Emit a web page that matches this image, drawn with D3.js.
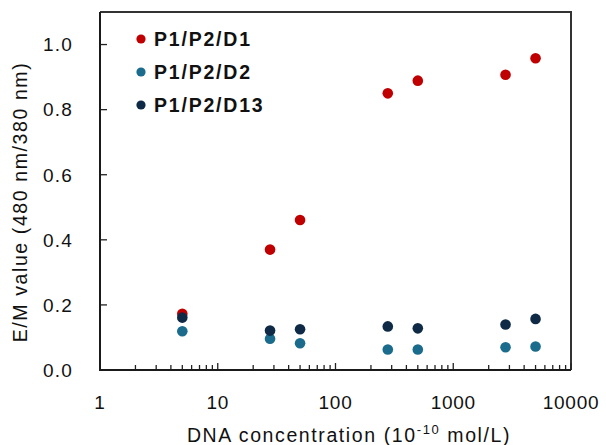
<!DOCTYPE html>
<html><head><meta charset="utf-8">
<script src="https://cdn.jsdelivr.net/npm/d3@7"></script>
<style>body{margin:0;background:#fff}svg{display:block}</style>
</head><body><svg id="c" width="606" height="445"></svg>
<script>
const concentrations = [5, 27.8, 50, 278, 500, 2780, 5000];
const seriesNames = ["P1/P2/D1", "P1/P2/D2", "P1/P2/D13"];
const d1Values = [0.173, 0.370, 0.461, 0.850, 0.889, 0.907, 0.958];
const d2Values = [0.119, 0.096, 0.082, 0.063, 0.063, 0.070, 0.072];
const d13Values = [0.161, 0.121, 0.125, 0.134, 0.128, 0.140, 0.157];
const yTicks = [0, 0.2, 0.4, 0.6, 0.8, 1.0];
const xTicks = [1, 10, 100, 1000, 10000];
const seriesColors = ["#C00000", "#1B6B8D", "#0E2A47"];

const series = [d1Values, d2Values, d13Values].map((vals, i) => ({
  name: seriesNames[i], color: seriesColors[i],
  points: concentrations.map((c, j) => ({x: c, y: vals[j]}))
}));

const FONT = "'Liberation Sans', Arial, sans-serif";
const m = {left: 100, right: 571, top: 12, bottom: 370};
const svg = d3.select("#c");

const x = d3.scaleLog().domain([1, 10000]).range([m.left, m.right]);
const y = d3.scaleLinear().domain([0, 1.1]).range([m.bottom, m.top]);

// frame (top + right)
svg.append("path")
  .attr("d", `M${m.left},${m.top}H${m.right}V${m.bottom}`)
  .attr("fill", "none").attr("stroke", "#333").attr("stroke-width", 2);

// x axis with inward ticks
const minor = [];
for (let d = 1; d < 10000; d *= 10) for (let k = 2; k <= 9; k++) minor.push(d * k);
const gx = svg.append("g").attr("transform", `translate(0,${m.bottom})`);
gx.selectAll("line.minor").data(minor).join("line")
  .attr("x1", d => x(d)).attr("x2", d => x(d)).attr("y1", 0).attr("y2", -5)
  .attr("stroke", "#222").attr("stroke-width", 1.3);
gx.selectAll("line.major").data(xTicks).join("line")
  .attr("x1", d => x(d)).attr("x2", d => x(d)).attr("y1", 0).attr("y2", -7)
  .attr("stroke", "#222").attr("stroke-width", 1.3);
gx.selectAll("text").data(xTicks).join("text")
  .attr("x", d => x(d)).attr("y", 38.5).attr("text-anchor", "middle")
  .attr("font-family", FONT).attr("font-size", 19).attr("letter-spacing", 0.7)
  .attr("fill", "#111").text(d => d3.format("d")(d));

// y axis with inward ticks
const gy = svg.append("g").attr("transform", `translate(${m.left},0)`);
gy.selectAll("line").data(yTicks).join("line")
  .attr("x1", 0).attr("x2", 7).attr("y1", d => y(d)).attr("y2", d => y(d))
  .attr("stroke", "#222").attr("stroke-width", 1.3);
gy.selectAll("text").data(yTicks).join("text")
  .attr("x", -27).attr("y", d => y(d)).attr("dy", "0.36em").attr("text-anchor", "end")
  .attr("font-family", FONT).attr("font-size", 19).attr("letter-spacing", 1.2)
  .attr("fill", "#111").text(d => d3.format(".1f")(d));

// axis lines
svg.append("path")
  .attr("d", `M${m.left},${m.top}V${m.bottom}H${m.right}`)
  .attr("fill", "none").attr("stroke", "#1a1a1a").attr("stroke-width", 2);

// points
series.forEach(s => {
  svg.append("g").selectAll("circle").data(s.points).join("circle")
    .attr("cx", d => x(d.x)).attr("cy", d => y(d.y)).attr("r", 5.3)
    .attr("fill", s.color);
});

// legend
const lg = svg.append("g");
series.forEach((s, i) => {
  const yy = 39 + i * 33;
  lg.append("circle").attr("cx", 141).attr("cy", yy).attr("r", 4.6).attr("fill", s.color);
  lg.append("text").attr("x", 154).attr("y", yy + 7)
    .attr("font-family", FONT).attr("font-size", 19.5).attr("font-weight", "bold")
    .attr("letter-spacing", 1.8).attr("fill", "#111").text(s.name);
});

// axis titles
const xt = svg.append("text").attr("x", 349).attr("y", 441.5).attr("text-anchor", "middle")
  .attr("font-family", FONT).attr("font-size", 19.5).attr("letter-spacing", 1.6).attr("fill", "#111");
xt.append("tspan").text("DNA concentration (10");
xt.append("tspan").attr("font-size", 13).attr("dy", -8).text("-10");
xt.append("tspan").attr("dy", 8).text(" mol/L)");

svg.append("text").attr("transform", "translate(27,202) rotate(-90)")
  .attr("text-anchor", "middle").attr("font-family", FONT).attr("font-size", 19.5)
  .attr("letter-spacing", 1.6).attr("fill", "#111").text("E/M value (480 nm/380 nm)");
</script></body></html>
